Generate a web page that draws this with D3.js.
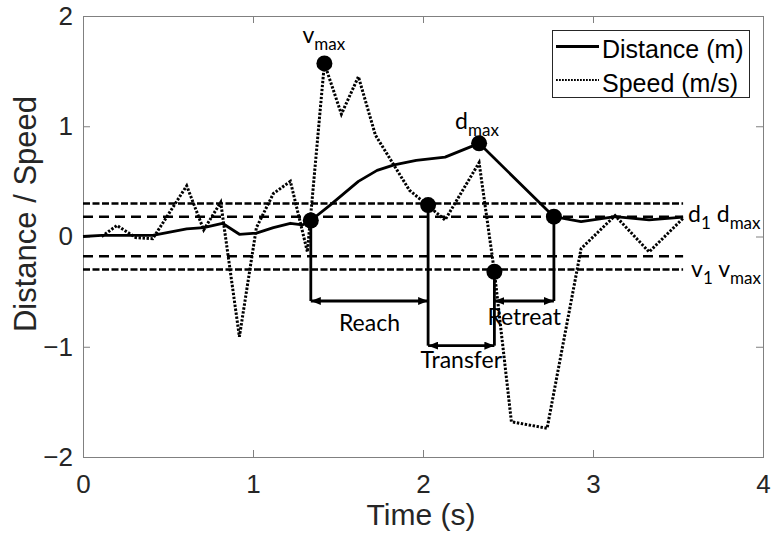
<!DOCTYPE html>
<html>
<head>
<meta charset="utf-8">
<script src="https://cdn.jsdelivr.net/npm/d3@7"></script>
<style>
  body { margin: 0; background: #fff; }
  svg { display: block; }
</style>
</head>
<body>
<svg id="chart" width="772" height="542"></svg>
<script>
// ---- Data -------------------------------------------------------------
// Hand distance from start position (m)
const distTime = [0, 0.11, 0.21, 0.31, 0.41, 0.51, 0.61, 0.71, 0.82, 0.92, 1.02, 1.12, 1.22, 1.29,
                  1.34, 1.45, 1.62, 1.73, 1.83, 1.96, 2.13, 2.33, 2.77, 2.93, 3.13, 3.33, 3.53];
const distance = [0, 0.01, 0.01, 0.01, 0.01, 0.04, 0.07, 0.08, 0.12, 0.02, 0.03, 0.08, 0.12, 0.105,
                  0.145, 0.28, 0.50, 0.60, 0.65, 0.69, 0.72, 0.845, 0.18, 0.135, 0.18, 0.15, 0.175];

// Hand speed (m/s)
const speedTime = [0.11, 0.20, 0.31, 0.41, 0.61, 0.71, 0.81, 0.92, 1.02, 1.12, 1.22, 1.32, 1.42,
                   1.52, 1.62, 1.72, 1.92, 2.13, 2.33, 2.42, 2.52, 2.73, 2.93, 3.13, 3.33, 3.53];
const speed = [0.00, 0.10, -0.01, -0.02, 0.46, 0.06, 0.31, -0.91, 0.08, 0.39, 0.50, -0.14, 1.57,
               1.11, 1.45, 0.92, 0.42, 0.15, 0.67, -0.32, -1.68, -1.74, -0.11, 0.19, -0.14, 0.165];

// Peak markers
const peakSymbol = ["v", "d"];
const peakSub = ["max", "max"];
const peakTime = [1.42, 2.33];
const peakValue = [1.57, 0.845];

// Phase boundary events and the value at which each was detected
const eventTime = [1.34, 2.03, 2.42, 2.77];
const eventValue = [0.145, 0.285, -0.32, 0.18];

// Movement phases, each spanning two consecutive events
const phaseNames = ["Reach", "Transfer", "Retreat"];
const phaseFrom = [0, 1, 2];
const phaseTo = [1, 2, 3];

// Detection thresholds: d1·dmax and v1·vmax
const distThreshold = 0.18;
const speedThreshold = 0.30;
const thresholdEnd = 3.53;

const seriesNames = ["Distance (m)", "Speed (m/s)"];
const xTicks = [0, 1, 2, 3, 4];
const yTicks = [-2, -1, 0, 1, 2];
const xTitle = "Time (s)";
const yTitle = "Distance / Speed";

// ---- Layout -----------------------------------------------------------
const W = 772, H = 542;
const plot = { left: 83, right: 763, top: 16, bottom: 457 };
const phaseLevel = [-0.585, -0.99, -0.585];
const phaseLabelDy = [30, 22, 24];
const peakLabelOffset = [[-22, -20], [-24, -14]];
const axisFont = "'Liberation Sans', Arial, Helvetica, sans-serif";
const noteFont = "Lato, 'Open Sans', sans-serif";
const ink = "#000";
const axisInk = "#262626";

const svg = d3.select("#chart");

const x = d3.scaleLinear().domain([0, 4]).range([plot.left, plot.right]);
const y = d3.scaleLinear().domain([-2, 2]).range([plot.bottom, plot.top]);

// Arrowhead for phase spans
svg.append("defs").append("marker")
  .attr("id", "head")
  .attr("viewBox", "0 0 10 8")
  .attr("refX", 10).attr("refY", 4)
  .attr("markerWidth", 10).attr("markerHeight", 8)
  .attr("markerUnits", "userSpaceOnUse")
  .attr("orient", "auto-start-reverse")
  .append("path").attr("d", "M0,0L10,4L0,8Z").attr("fill", ink);

// ---- Axes (inward ticks on all four sides) ----------------------------
function styleAxis(g, labels) {
  g.select(".domain").remove();
  g.selectAll(".tick line").attr("stroke", "#808080").attr("stroke-width", 1);
  g.selectAll(".tick text")
    .attr("fill", axisInk)
    .style("font-family", axisFont)
    .style("font-size", "26px")
    .style("display", labels ? null : "none");
}

svg.append("g")
  .attr("transform", `translate(0,${plot.bottom})`)
  .call(d3.axisBottom(x).tickValues(xTicks).tickSizeInner(-7).tickSizeOuter(0).tickPadding(18).tickFormat(d3.format("d")))
  .call(g => styleAxis(g, true));
svg.append("g")
  .attr("transform", `translate(0,${plot.top})`)
  .call(d3.axisTop(x).tickValues(xTicks).tickSizeInner(-7).tickSizeOuter(0))
  .call(g => styleAxis(g, false));
svg.append("g")
  .attr("transform", `translate(${plot.left},0)`)
  .call(d3.axisLeft(y).tickValues(yTicks).tickSizeInner(-7).tickSizeOuter(0).tickPadding(10).tickFormat(d3.format("d")))
  .call(g => styleAxis(g, true));
svg.append("g")
  .attr("transform", `translate(${plot.right},0)`)
  .call(d3.axisRight(y).tickValues(yTicks).tickSizeInner(-7).tickSizeOuter(0))
  .call(g => styleAxis(g, false));

svg.append("rect")
  .attr("x", plot.left + 0.5).attr("y", plot.top + 0.5)
  .attr("width", plot.right - plot.left).attr("height", plot.bottom - plot.top)
  .attr("fill", "none").attr("stroke", "#808080").attr("stroke-width", 1);

svg.append("text")
  .attr("x", (plot.left + plot.right) / 2 - 2).attr("y", 525)
  .attr("text-anchor", "middle")
  .attr("fill", axisInk)
  .style("font-family", axisFont).style("font-size", "30px")
  .text(xTitle);

svg.append("text")
  .attr("transform", "translate(36,214) rotate(-90)")
  .attr("text-anchor", "middle")
  .attr("fill", axisInk)
  .style("font-family", axisFont).style("font-size", "31px")
  .text(yTitle);

// ---- Threshold lines --------------------------------------------------
const thresholds = [
  { v: speedThreshold, dash: "7,2.5" },
  { v: distThreshold, dash: "10,6" },
  { v: -distThreshold, dash: "10,6" },
  { v: -speedThreshold, dash: "7,2.5" }
];
svg.append("g").selectAll("line")
  .data(thresholds).join("line")
  .attr("x1", x(0)).attr("x2", x(thresholdEnd))
  .attr("y1", d => y(d.v)).attr("y2", d => y(d.v))
  .attr("stroke", ink).attr("stroke-width", 2.5)
  .attr("stroke-dasharray", d => d.dash);

// ---- Series -----------------------------------------------------------
const line = d3.line().x(d => x(d[0])).y(d => y(d[1]));

svg.append("path")
  .datum(distTime.map((t, i) => [t, distance[i]]))
  .attr("d", line)
  .attr("fill", "none").attr("stroke", ink).attr("stroke-width", 2.8)
  .attr("stroke-linejoin", "round");

svg.append("path")
  .datum(speedTime.map((t, i) => [t, speed[i]]))
  .attr("d", line)
  .attr("fill", "none").attr("stroke", ink).attr("stroke-width", 3)
  .attr("stroke-dasharray", "2.4,1.6");

// ---- Phase spans ------------------------------------------------------
const spans = svg.append("g").attr("stroke", ink).attr("stroke-width", 2.8);

// vertical drops from each event marker to its lowest phase arrow
const dropLevel = eventTime.map((t, i) => {
  const levels = phaseNames.map((_, p) => (phaseFrom[p] === i || phaseTo[p] === i) ? phaseLevel[p] : 0);
  return d3.min(levels);
});
spans.selectAll("line.drop")
  .data(eventTime).join("line").attr("class", "drop")
  .attr("x1", d => x(d)).attr("x2", d => x(d))
  .attr("y1", (d, i) => y(eventValue[i]))
  .attr("y2", (d, i) => y(dropLevel[i]));

spans.selectAll("line.span")
  .data(phaseNames).join("line").attr("class", "span")
  .attr("x1", (d, p) => x(eventTime[phaseFrom[p]]))
  .attr("x2", (d, p) => x(eventTime[phaseTo[p]]))
  .attr("y1", (d, p) => y(phaseLevel[p]))
  .attr("y2", (d, p) => y(phaseLevel[p]))
  .attr("marker-start", "url(#head)")
  .attr("marker-end", "url(#head)");

svg.append("g").selectAll("text")
  .data(phaseNames).join("text")
  .attr("x", (d, p) => (x(eventTime[phaseFrom[p]]) + x(eventTime[phaseTo[p]])) / 2)
  .attr("y", (d, p) => y(phaseLevel[p]) + phaseLabelDy[p])
  .attr("text-anchor", "middle")
  .attr("fill", ink)
  .style("font-family", noteFont).style("font-size", "23px")
  .text(d => d);

// ---- Markers ----------------------------------------------------------
const dots = svg.append("g").attr("fill", ink);
dots.selectAll("circle.event")
  .data(eventTime).join("circle").attr("class", "event")
  .attr("cx", d => x(d)).attr("cy", (d, i) => y(eventValue[i])).attr("r", 8);
dots.selectAll("circle.peak")
  .data(peakTime).join("circle").attr("class", "peak")
  .attr("cx", d => x(d)).attr("cy", (d, i) => y(peakValue[i])).attr("r", 8);

// symbol with subscript, e.g. v_max
function subscripted(g, parts, px, py) {
  const t = g.append("text")
    .attr("x", px).attr("y", py)
    .attr("fill", ink)
    .style("font-family", noteFont);
  let shifted = 0;
  parts.forEach(([s, isSub]) => {
    const dy = isSub ? 7 - shifted : -shifted;
    shifted = isSub ? 7 : 0;
    t.append("tspan")
      .attr("dy", dy)
      .style("font-size", isSub ? "17px" : "23px")
      .text(s);
  });
  return t;
}

const notes = svg.append("g");
peakTime.forEach((t, i) => {
  subscripted(notes, [[peakSymbol[i], false], [peakSub[i], true]],
    x(t) + peakLabelOffset[i][0], y(peakValue[i]) + peakLabelOffset[i][1]);
});
subscripted(notes, [["d", false], ["1", true], [" d", false], ["max", true]], x(thresholdEnd) + 5, y(distThreshold) + 5);
subscripted(notes, [["v", false], ["1", true], [" v", false], ["max", true]], x(thresholdEnd) + 8, y(-speedThreshold) + 7);

// ---- Legend -----------------------------------------------------------
const legend = svg.append("g");
legend.append("rect")
  .attr("x", 552.5).attr("y", 30.5).attr("width", 197).attr("height", 67)
  .attr("fill", "#fff").attr("stroke", axisInk).attr("stroke-width", 1);
const legendRows = [
  { name: seriesNames[0], width: 2.8, dash: null, ly: 46.5 },
  { name: seriesNames[1], width: 2.2, dash: "1.8,1.2", ly: 80 }
];
legendRows.forEach(r => {
  legend.append("line")
    .attr("x1", 556).attr("x2", 599).attr("y1", r.ly).attr("y2", r.ly)
    .attr("stroke", ink).attr("stroke-width", r.width)
    .attr("stroke-dasharray", r.dash);
  legend.append("text")
    .attr("x", 602).attr("y", r.ly + 11.5)
    .attr("fill", ink)
    .style("font-family", axisFont).style("font-size", "25px")
    .text(r.name);
});
</script>
</body>
</html>
